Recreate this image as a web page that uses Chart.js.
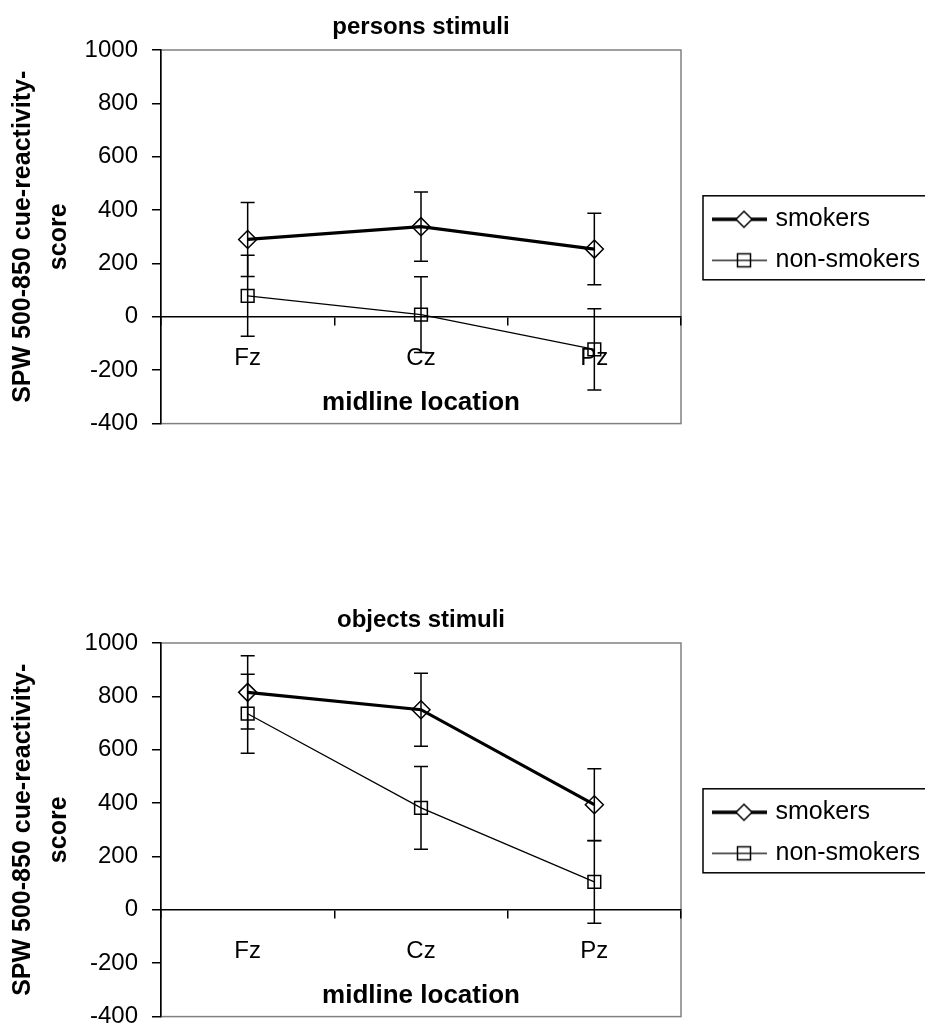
<!DOCTYPE html>
<html>
<head>
<meta charset="utf-8">
<script src="https://cdn.jsdelivr.net/npm/chart.js@4.4.0/dist/chart.umd.min.js"></script>
<style>
  html, body { margin: 0; padding: 0; background: #fff; overflow: hidden; }
  .panel { position: absolute; left: 0; width: 925px; height: 452px; }
  #personsBox { top: 0; }
  #objectsBox { top: 593px; }
</style>
</head>
<body>
<div class="panel" id="personsBox"><canvas id="persons" width="925" height="452"></canvas></div>
<div class="panel" id="objectsBox"><canvas id="objects" width="925" height="452"></canvas></div>
<script>
// data (mean and +/- error)
const locations = ['Fz', 'Cz', 'Pz'];
const seriesNames = ['smokers', 'non-smokers'];
const yMin = -400;
const yMax = 1000;
const yStep = 200;

const personsSmokers = [290, 338, 254];
const personsSmokersErr = [139, 130, 134];
const personsNonSmokers = [79, 8, -122];
const personsNonSmokersErr = [152, 142, 152];

const objectsSmokers = [815, 750, 394];
const objectsSmokersErr = [137, 137, 135];
const objectsNonSmokers = [735, 382, 105];
const objectsNonSmokersErr = [148, 155, 155];

const FONT = "'Liberation Sans', Arial, sans-serif";
Chart.defaults.font.family = FONT;
Chart.defaults.color = '#000';

// legend symbol: line with marker in the middle
function legendIcon(shape, lineWidth) {
    const c = document.createElement('canvas');
    c.width = 74;
    c.height = 22;
    const g = c.getContext('2d');
    g.strokeStyle = '#000';
    g.lineWidth = lineWidth;
    g.beginPath();
    g.moveTo(19, 11);
    g.lineTo(74, 11);
    g.stroke();
    g.lineWidth = 1.5;
    g.fillStyle = '#fff';
    g.beginPath();
    if (shape === 'diamond') {
        g.moveTo(51, 3); g.lineTo(59, 11); g.lineTo(51, 19); g.lineTo(43, 11); g.closePath();
        g.fill();
    } else {
        g.rect(44.5, 4.5, 13, 13);
    }
    g.stroke();
    return c;
}
const legendIcons = [legendIcon('diamond', 3.5), legendIcon('square', 1.25)];

// grey frame round the plot area (drawn before the axes)
const plotFrame = {
    id: 'plotFrame',
    beforeDraw(chart) {
        const {ctx, chartArea: a} = chart;
        ctx.save();
        ctx.strokeStyle = '#808080';
        ctx.lineWidth = 1.5;
        ctx.strokeRect(a.left, a.top, a.right - a.left, a.bottom - a.top);
        ctx.restore();
    }
};

// vertical error bars with caps
const errorBars = {
    id: 'errorBars',
    afterDatasetsDraw(chart) {
        const {ctx} = chart;
        const y = chart.scales.y;
        ctx.save();
        ctx.strokeStyle = '#000';
        ctx.lineWidth = 1.5;
        chart.data.datasets.forEach((ds, i) => {
            const meta = chart.getDatasetMeta(i);
            meta.data.forEach((pt, j) => {
                const top = y.getPixelForValue(ds.data[j] + ds.errorBars[j]);
                const bot = y.getPixelForValue(ds.data[j] - ds.errorBars[j]);
                ctx.beginPath();
                ctx.moveTo(pt.x, top); ctx.lineTo(pt.x, bot);
                ctx.moveTo(pt.x - 7, top); ctx.lineTo(pt.x + 7, top);
                ctx.moveTo(pt.x - 7, bot); ctx.lineTo(pt.x + 7, bot);
                ctx.stroke();
            });
        });
        ctx.restore();
    }
};

// box round the legend, open on the right like the original
const legendFrame = {
    id: 'legendFrame',
    afterDraw(chart) {
        const hb = chart.legend.legendHitBoxes;
        if (!hb || !hb.length) return;
        const first = hb[0];
        const last = hb[hb.length - 1];
        const top = first.top - 11;
        const bottom = last.top + last.height + 7;
        const {ctx} = chart;
        ctx.save();
        ctx.strokeStyle = '#000';
        ctx.lineWidth = 1.5;
        ctx.strokeRect(first.left + 6, top, chart.width, bottom - top);
        ctx.restore();
    }
};

function makeConfig(title, smokers, smokersErr, nonSmokers, nonSmokersErr) {
    return {
        type: 'line',
        data: {
            labels: locations,
            datasets: [
                {
                    label: seriesNames[0],
                    data: smokers,
                    errorBars: smokersErr,
                    borderColor: '#000',
                    borderWidth: 3.2,
                    tension: 0,
                    pointStyle: 'rectRot',
                    pointRadius: 9,
                    pointHoverRadius: 9,
                    pointBorderWidth: 1.5,
                    pointBorderColor: '#000',
                    pointBackgroundColor: 'transparent'
                },
                {
                    label: seriesNames[1],
                    data: nonSmokers,
                    errorBars: nonSmokersErr,
                    borderColor: '#000',
                    borderWidth: 1.25,
                    tension: 0,
                    pointStyle: 'rect',
                    pointRadius: 9,
                    pointHoverRadius: 9,
                    pointBorderWidth: 1.5,
                    pointBorderColor: '#000',
                    pointBackgroundColor: 'transparent'
                }
            ]
        },
        options: {
            responsive: false,
            animation: false,
            events: [],
            layout: { padding: 0 },
            plugins: {
                title: {
                    display: true,
                    text: title,
                    fullSize: false,
                    color: '#000',
                    font: { size: 24, weight: 'bold' },
                    padding: { top: 12.5, bottom: 8.7 }
                },
                legend: {
                    position: 'right',
                    fullSize: false,
                    maxWidth: 244,
                    // empty title just nudges the rows down a few px
                    title: { display: true, text: '', font: { size: 4, lineHeight: 1 }, padding: 1 },
                    labels: {
                        color: '#000',
                        font: { size: 25 },
                        padding: 16,
                        usePointStyle: true,
                        pointStyleWidth: 66,
                        generateLabels(chart) {
                            return Chart.defaults.plugins.legend.labels.generateLabels(chart)
                                .map((item, i) => ({ ...item, pointStyle: legendIcons[i] }));
                        }
                    }
                },
                tooltip: { enabled: false }
            },
            scales: {
                x: {
                    type: 'category',
                    position: { y: 0 },
                    offset: true,
                    grid: { offset: true, drawOnChartArea: false, tickLength: 8, color: '#000', lineWidth: 1.5 },
                    border: { color: '#000', width: 1.5 },
                    ticks: { font: { size: 24 }, padding: 19, color: '#000' },
                    title: {
                        display: true,
                        text: 'midline location',
                        color: '#000',
                        font: { size: 26, weight: 'bold' },
                        padding: { top: -4.4, bottom: 0 }
                    }
                },
                y: {
                    min: yMin,
                    max: yMax,
                    ticks: { stepSize: yStep, font: { size: 24 }, padding: 14, color: '#000', callback: v => String(v) },
                    grid: { drawOnChartArea: false, tickLength: 9, color: '#000', lineWidth: 1.5 },
                    border: { color: '#000', width: 1.5 },
                    title: {
                        display: true,
                        text: ['SPW 500-850 cue-reactivity-', 'score'],
                        color: '#000',
                        font: { size: 25, weight: 'bold', lineHeight: 1.42 },
                        padding: { top: 5.5, bottom: 0 }
                    },
                    afterFit(axis) { axis.width = 161; }
                }
            }
        },
        plugins: [plotFrame, errorBars, legendFrame]
    };
}

new Chart(document.getElementById('persons'),
    makeConfig('persons stimuli', personsSmokers, personsSmokersErr, personsNonSmokers, personsNonSmokersErr));
new Chart(document.getElementById('objects'),
    makeConfig('objects stimuli', objectsSmokers, objectsSmokersErr, objectsNonSmokers, objectsNonSmokersErr));
</script>
</body>
</html>
